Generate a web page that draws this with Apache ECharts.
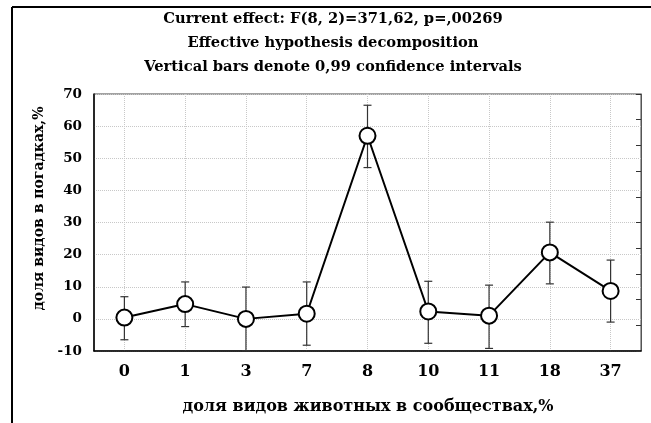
<!DOCTYPE html>
<html><head><meta charset="utf-8">
<script src="https://cdn.jsdelivr.net/npm/echarts@6/dist/echarts.min.js"></script>
<style>html,body{margin:0;padding:0;background:#fff}#c{width:651px;height:423px}</style>
</head><body><div id="c"></div>
<script>
const categories = ['0','1','3','7','8','10','11','18','37'];
const means = [0.4, 4.6, 0.0, 1.6, 57.0, 2.3, 1.0, 20.7, 8.7];
const upper = [6.9, 11.5, 9.9, 11.5, 66.5, 11.7, 10.5, 30.1, 18.3];
const lower = [-6.5, -2.4, -9.9, -8.2, 47.1, -7.6, -9.2, 10.9, -1.0];
const yTicks = [-10, 0, 10, 20, 30, 40, 50, 60, 70];
const titleLines = ['Current effect: F(8, 2)=371,62, p=,00269','Effective hypothesis decomposition','Vertical bars denote 0,99 confidence intervals'];
const xName = 'доля видов животных в сообществах,%';
const yName = 'доля видов в погадках,%';

const FONT = 'DejaVu Serif';
const chart = echarts.init(document.getElementById('c'));
const errData = categories.map((c,i)=>[i, lower[i], upper[i]]);
chart.setOption({
  animation:false,
  title:[
    {text:titleLines.join('\n'), left:328, top:2, textAlign:'center',
     textStyle:{fontFamily:FONT, fontWeight:'bold', fontSize:14.7, lineHeight:24, color:'#000'}},
    {text:xName, left:363, top:394, textAlign:'center',
     textStyle:{fontFamily:FONT, fontWeight:'bold', fontSize:16, color:'#000'}}
  ],
  graphic:[
    {type:'line', shape:{x1:12,y1:7,x2:651,y2:7}, style:{stroke:'#000',lineWidth:2}},
    {type:'line', shape:{x1:12,y1:7,x2:12,y2:423}, style:{stroke:'#000',lineWidth:2}}
  ],
  grid:{left:94, right:10, top:94, bottom:72, show:true, borderColor:'#444', borderWidth:1},
  xAxis:{type:'category', data:categories, boundaryGap:true,
    axisLine:{onZero:false, lineStyle:{color:'#000',width:1.5}},
    axisTick:{inside:true, alignWithLabel:true, length:4, lineStyle:{color:'#333'}},
    axisLabel:{fontFamily:FONT, fontWeight:'bold', fontSize:16, color:'#000', margin:13},
    splitLine:{show:true, alignWithLabel:true, lineStyle:{color:'#c8c8c8', type:'dotted'}}
  },
  yAxis:[
    {type:'value', min:-10, max:70, interval:10, position:'left',
     name:yName, nameLocation:'middle', nameGap:47,
     nameTextStyle:{fontFamily:FONT, fontWeight:'bold', fontSize:14, color:'#000', padding:[0,0,0,28]},
     axisLine:{show:true, lineStyle:{color:'#000',width:1.5}},
     axisTick:{show:false},
     axisLabel:{fontFamily:FONT, fontWeight:'bold', fontSize:13.5, color:'#000', margin:12,
       formatter:v=> yTicks.includes(v)? String(v):''},
     splitLine:{show:true, lineStyle:{color:'#c8c8c8', type:'dotted'}}
    },
    {type:'value', min:-10, max:70, interval:8, position:'right',
     axisLine:{show:true, lineStyle:{color:'#555'}},
     axisTick:{show:true, inside:true, length:5, lineStyle:{color:'#333'}},
     axisLabel:{show:false}, splitLine:{show:false}
    }
  ],
  series:[
    {type:'custom', data:errData, z:2,
     renderItem:(params, api)=>{
       const x = api.value(0);
       const lo = api.coord([x, api.value(1)]);
       const hi = api.coord([x, api.value(2)]);
       const w = 4;
       const st = {stroke:'#333', lineWidth:1.2};
       return {type:'group', children:[
         {type:'line', shape:{x1:lo[0],y1:lo[1],x2:hi[0],y2:hi[1]}, style:st},
         {type:'line', shape:{x1:lo[0]-w,y1:lo[1],x2:lo[0]+w,y2:lo[1]}, style:st},
         {type:'line', shape:{x1:hi[0]-w,y1:hi[1],x2:hi[0]+w,y2:hi[1]}, style:st}
       ]};
     }
    },
    {type:'line', data:means, z:3, symbol:'circle', symbolSize:16,
     lineStyle:{color:'#000', width:2},
     itemStyle:{color:'#fff', borderColor:'#000', borderWidth:2}
    }
  ]
});
</script></body></html>
